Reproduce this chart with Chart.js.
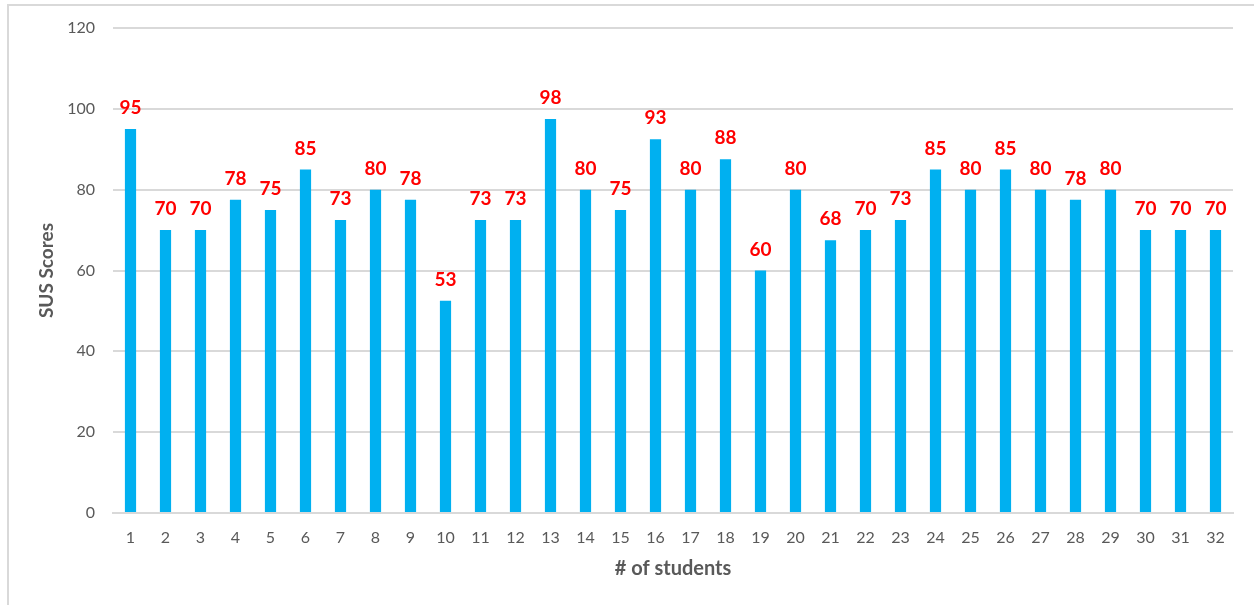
<!DOCTYPE html>
<html>
<head>
<meta charset="utf-8">
<script src="https://cdn.jsdelivr.net/npm/chart.js@4/dist/chart.umd.min.js"></script>
<style>
  html, body { margin: 0; padding: 0; background: #ffffff; overflow: hidden; }
  #frame { position: absolute; left: 7px; top: 4px; width: 1400px; height: 800px; border: 2px solid #d9d9d9; box-sizing: border-box; }
  #wrap { position: absolute; left: 0; top: 0; width: 1254px; height: 605px; }
</style>
</head>
<body>
<div id="frame"></div>
<div id="wrap"><canvas id="chart" width="1254" height="605"></canvas></div>
<script>
// Students (x categories) and their SUS scores
const students = ['1','2','3','4','5','6','7','8','9','10','11','12','13','14','15','16',
                  '17','18','19','20','21','22','23','24','25','26','27','28','29','30','31','32'];
const susScores = [95, 70, 70, 77.5, 75, 85, 72.5, 80, 77.5, 52.5, 72.5, 72.5, 97.5, 80, 75, 92.5,
                   80, 87.5, 60, 80, 67.5, 70, 72.5, 85, 80, 85, 80, 77.5, 80, 70, 70, 70];
const yTicks = [0, 20, 40, 60, 80, 100, 120];

const FONT = 'Lato, "Liberation Sans", sans-serif';

// Rounded value labels above each bar
const valueLabels = {
  id: 'valueLabels',
  afterDatasetsDraw(chart) {
    const ctx = chart.ctx;
    const meta = chart.getDatasetMeta(0);
    ctx.save();
    ctx.fillStyle = '#ff0000';
    ctx.font = 'bold 19px ' + FONT;
    ctx.textAlign = 'center';
    ctx.textBaseline = 'middle';
    meta.data.forEach((bar, i) => {
      const v = chart.data.datasets[0].data[i];
      ctx.fillText(String(Math.round(v)), bar.x, bar.y - 21);
    });
    ctx.restore();
  }
};

new Chart(document.getElementById('chart'), {
  type: 'bar',
  data: {
    labels: students,
    datasets: [{
      label: 'SUS Scores',
      data: susScores,
      backgroundColor: '#00b0f0',
      borderWidth: 0,
      barPercentage: 0.64,
      categoryPercentage: 0.5
    }]
  },
  options: {
    responsive: false,
    animation: false,
    devicePixelRatio: 1,
    layout: { padding: { top: 28, right: 21, bottom: 24, left: 0 } },
    plugins: {
      legend: { display: false },
      tooltip: { enabled: false }
    },
    scales: {
      x: {
        grid: { display: false, drawTicks: false },
        border: { display: true, color: '#d9d9d9', width: 2 },
        ticks: { color: '#595959', font: { family: FONT, size: 16 }, padding: 15, maxRotation: 0, autoSkip: false },
        title: { display: true, text: '# of students', color: '#595959', font: { family: FONT, size: 20, weight: 'bold' }, padding: { top: 4, bottom: 0 } },
        afterFit(scale) { scale.height = 68; }
      },
      y: {
        min: 0, max: 120,
        afterBuildTicks(scale) { scale.ticks = yTicks.map(v => ({ value: v })); },
        grid: { color: '#d9d9d9', lineWidth: 2, drawTicks: false },
        border: { display: false },
        ticks: { color: '#595959', font: { family: FONT, size: 16 }, padding: 18 },
        title: { display: true, text: 'SUS Scores', color: '#595959', font: { family: FONT, size: 19, weight: 'bold' }, padding: { top: 35 } },
        afterFit(scale) { scale.width = 113; }
      }
    }
  },
  plugins: [valueLabels]
});
</script>
</body>
</html>
